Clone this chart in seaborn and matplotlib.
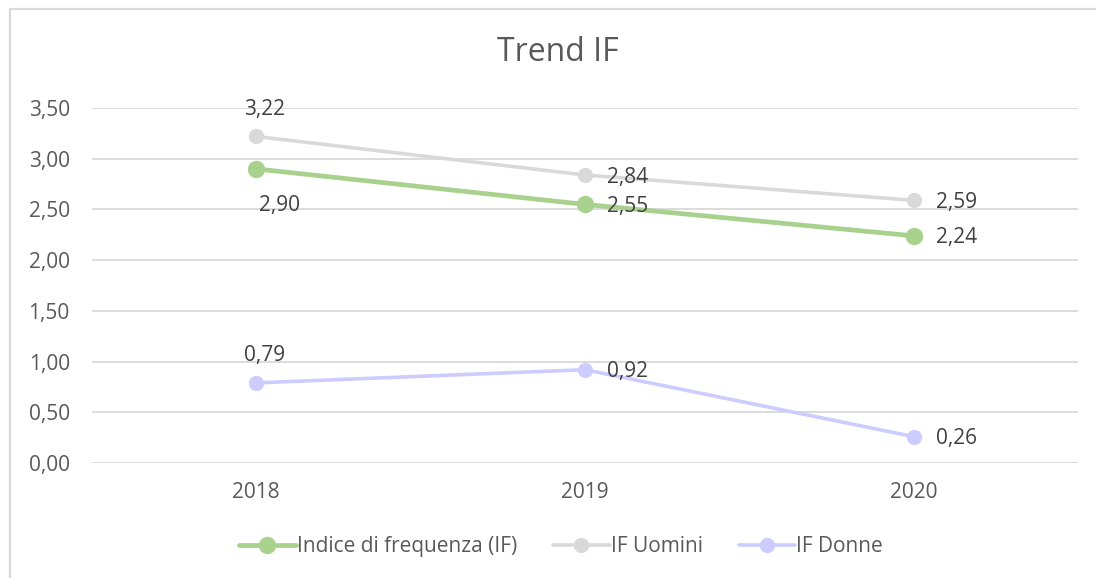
import pandas as pd
import seaborn as sns
import matplotlib.pyplot as plt
from matplotlib.lines import Line2D
from matplotlib.ticker import FuncFormatter

# data
years = ["2018", "2019", "2020"]
indice_if = [2.90, 2.55, 2.24]
if_uomini = [3.22, 2.84, 2.59]
if_donne = [0.79, 0.92, 0.26]
series_names = ["Indice di frequenza (IF)", "IF Uomini", "IF Donne"]

colors = {
    "Indice di frequenza (IF)": "#A9D18E",
    "IF Uomini": "#D9D9D9",
    "IF Donne": "#CCCCFF",
}
line_w = {"Indice di frequenza (IF)": 3.4, "IF Uomini": 2.6, "IF Donne": 2.6}
marker_s = {"Indice di frequenza (IF)": 12.5, "IF Uomini": 11, "IF Donne": 11}
# label placement per point: "above", "below" or "right"
label_pos = {
    "Indice di frequenza (IF)": ["below", "right", "right"],
    "IF Uomini": ["above", "right", "right"],
    "IF Donne": ["above", "right", "right"],
}
offsets = {"above": (6, 19.5, "center"), "below": (17, -26.5, "center"), "right": (16, -1.5, "left")}

df = pd.DataFrame(
    {
        "Anno": years * 3,
        "Valore": indice_if + if_uomini + if_donne,
        "Serie": [s for s in series_names for _ in years],
    }
)

sns.set_style("white")
plt.rcParams["font.family"] = ["Open Sans", "DejaVu Sans"]
text_col = "#595959"
fs = 15

fig = plt.figure(figsize=(10.96, 5.78), dpi=100)
ax = fig.add_axes([0.0839, 0.199, 0.8997, 0.614])

# draw in reverse so the main series sits on top
for name in series_names[::-1]:
    sub = df[df.Serie == name]
    sns.lineplot(
        x="Anno",
        y="Valore",
        data=sub,
        color=colors[name],
        linewidth=line_w[name],
        marker="o",
        markersize=marker_s[name],
        markeredgewidth=0,
        ax=ax,
        legend=False,
    )
    for i, (y, pos) in enumerate(zip(sub["Valore"], label_pos[name])):
        lbl = ("%.2f" % y).replace(".", ",")
        dx, dy, ha = offsets[pos]
        ax.annotate(lbl, (i, y), xytext=(dx, dy), textcoords="offset points",
                    ha=ha, va="center", fontsize=fs, color="#404040")

ax.set_xlim(-0.5, 2.5)
ax.set_ylim(0, 3.5)
ax.set_yticks([0, 0.5, 1, 1.5, 2, 2.5, 3, 3.5])
ax.yaxis.set_major_formatter(FuncFormatter(lambda v, p: ("%.2f" % v).replace(".", ",")))
ax.grid(axis="y", color="#D9D9D9", linewidth=1.3)
ax.set_axisbelow(True)
for s in ax.spines.values():
    s.set_visible(False)
ax.tick_params(axis="both", length=0, labelsize=fs, colors=text_col)
ax.tick_params(axis="x", pad=14)
ax.tick_params(axis="y", pad=16)
ax.set_xlabel("")
ax.set_ylabel("")

fig.text(0.509, 0.91, "Trend IF", ha="center", va="center", fontsize=23, color=text_col)

handles = [
    Line2D([0], [0], color=colors[n], linewidth=line_w[n], marker="o",
           markersize=marker_s[n], markeredgewidth=0)
    for n in series_names
]
fig.legend(handles, series_names, loc="center", bbox_to_anchor=(0.512, 0.054),
           ncol=3, frameon=False, fontsize=fs, labelcolor=text_col,
           handlelength=2.7, handletextpad=0.05, columnspacing=1.75)

# chart frame (left and top edges visible)
fig.add_artist(Line2D([0.0095, 0.0095], [0, 0.984], color="#D9D9D9", linewidth=1.6,
                      transform=fig.transFigure))
fig.add_artist(Line2D([0.0095, 1], [0.984, 0.984], color="#D9D9D9", linewidth=1.6,
                      transform=fig.transFigure))

fig.savefig("out.png", dpi=100)
